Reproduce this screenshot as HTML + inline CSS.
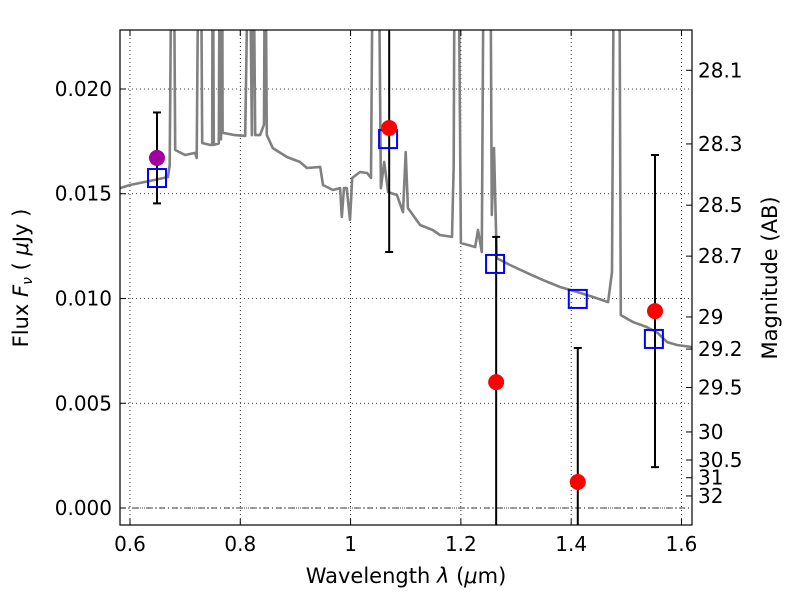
<!DOCTYPE html>
<html><head><meta charset="utf-8"><style>
html,body{margin:0;padding:0;background:#fff;}
svg text{font-family:"DejaVu Sans","Liberation Sans",sans-serif;}
</style></head><body>
<svg id="chart" width="800" height="600" viewBox="0 0 800 600" xmlns="http://www.w3.org/2000/svg">
<defs><clipPath id="clip"><rect x="120" y="30" width="572" height="495"/></clipPath></defs>
<rect x="0" y="0" width="800" height="600" fill="#fff"/>
<g id="grid"></g>
<g id="plot" clip-path="url(#clip)"></g>
<rect x="120" y="30" width="572" height="495" fill="none" stroke="#000" stroke-width="1.2"/>
<g id="axes"></g>
<text x="406" y="583" font-size="21" text-anchor="middle">Wavelength  <tspan font-style="italic">λ</tspan> (<tspan font-style="italic">μ</tspan>m)</text>
<text transform="translate(28,278) rotate(-90)" font-size="21" text-anchor="middle">Flux  <tspan font-style="italic">F</tspan><tspan font-style="italic" font-size="14" dy="4">ν</tspan><tspan dy="-4">  ( </tspan><tspan font-style="italic">μ</tspan>Jy )</text>
<text transform="translate(777,278) rotate(-90)" font-size="21" text-anchor="middle">Magnitude (AB)</text>
</svg>
<script>
const specWave=[0.582,0.600,0.645,0.669,0.672,0.676,0.679,0.682,0.700,0.718,0.721,0.725,0.728,0.731,0.745,0.749,0.750,0.752,0.761,0.763,0.765,0.767,0.768,0.770,0.790,0.809,0.816,0.821,0.823,0.827,0.836,0.843,0.845,0.848,0.859,0.885,0.908,0.921,0.945,0.950,0.968,0.981,0.984,0.988,0.993,0.999,1.003,1.017,1.030,1.037,1.041,1.050,1.055,1.061,1.068,1.084,1.095,1.100,1.104,1.126,1.149,1.162,1.184,1.187,1.189,1.195,1.200,1.226,1.231,1.238,1.242,1.253,1.256,1.260,1.265,1.289,1.320,1.349,1.380,1.411,1.440,1.467,1.474,1.478,1.487,1.490,1.512,1.537,1.557,1.574,1.592,1.619];
const specFlux=[0.01527,0.01542,0.01566,0.01580,0.01637,0.030,0.030,0.01709,0.01685,0.01695,0.01671,0.030,0.030,0.01742,0.01733,0.01733,0.030,0.01733,0.01740,0.030,0.01760,0.030,0.01790,0.01790,0.01780,0.01776,0.030,0.01780,0.030,0.01780,0.01780,0.01830,0.030,0.01780,0.01718,0.01675,0.01652,0.01623,0.01628,0.01542,0.01518,0.01527,0.01389,0.01527,0.01527,0.01375,0.01575,0.01604,0.01599,0.01575,0.030,0.030,0.01527,0.01652,0.01508,0.01494,0.01413,0.01699,0.01432,0.01351,0.01327,0.01303,0.01294,0.01637,0.030,0.030,0.01265,0.01246,0.01327,0.01222,0.030,0.030,0.01399,0.01718,0.01193,0.01160,0.01122,0.01088,0.01055,0.01031,0.01007,0.00983,0.01127,0.030,0.030,0.00921,0.00888,0.00864,0.00835,0.00792,0.00778,0.00768];
const obsWave=[0.649,1.070,1.264,1.412,1.552];
const obsFlux=[0.01671,0.01814,0.00601,0.00124,0.00940];
const obsErr=[0.00217,0.00592,0.00693,0.00640,0.00745];
const obsColor=['#a000a0','#ff0000','#ff0000','#ff0000','#ff0000'];
const modelWave=[0.649,1.068,1.262,1.412,1.550];
const modelFlux=[0.01575,0.01761,0.01165,0.00998,0.00807];
const xTicks=[0.6,0.8,1.0,1.2,1.4,1.6];
const xTickLabels=['0.6','0.8','1','1.2','1.4','1.6'];
const yTicks=[0,0.005,0.010,0.015,0.020];
const yTickLabels=['0.000','0.005','0.010','0.015','0.020'];
const magTicks=[28.1,28.3,28.5,28.7,29,29.2,29.5,30,30.5,31,32];
const magTickLabels=['28.1','28.3','28.5','28.7','29','29.2','29.5','30','30.5','31','32'];

const NS='http://www.w3.org/2000/svg';
const X0=120,X1=692,Y0=30,Y1=525,XMIN=0.5819,XMAX=1.6191,YMIN=-0.000811,YMAX=0.022816;
const sx=v=>X0+(v-XMIN)/(XMAX-XMIN)*(X1-X0);
const sy=v=>Y1-(v-YMIN)/(YMAX-YMIN)*(Y1-Y0);
const magToFlux=m=>Math.pow(10,(23.9-m)/2.5);
function mk(tag,attrs,parent){const e=document.createElementNS(NS,tag);for(const k in attrs)e.setAttribute(k,attrs[k]);parent.appendChild(e);return e;}
const grid=document.getElementById('grid'),plot=document.getElementById('plot'),axes=document.getElementById('axes');

xTicks.forEach((t,i)=>{
  const x=sx(t);
  const g=mk('line',{x1:x,x2:x,y1:Y0,y2:Y1,stroke:'#000','stroke-width':0.8,'stroke-dasharray':'1,3'},grid);
  
  
  mk('line',{x1:x,x2:x,y1:Y1,y2:Y1-6,stroke:'#000'},axes);
  mk('line',{x1:x,x2:x,y1:Y0,y2:Y0+6,stroke:'#000'},axes);
  const tx=mk('text',{x:x,y:Y1+26,'font-size':20,'text-anchor':'middle'},axes);
  tx.textContent=xTickLabels[i];
  
  
});
yTicks.forEach((t,i)=>{
  const y=sy(t);
  const g=mk('line',{x1:X0,x2:X1,y1:y,y2:y,stroke:'#000','stroke-width':0.8,'stroke-dasharray':'1,3'},grid);
  
  
  mk('line',{x1:X0,x2:X0+6,y1:y,y2:y,stroke:'#000'},axes);
  const tx=mk('text',{x:X0-8,y:y+7,'font-size':20,'text-anchor':'end'},axes);
  tx.textContent=yTickLabels[i];
  
  
});
const zl=mk('line',{x1:X0,x2:X1,y1:sy(0),y2:sy(0),stroke:'#000','stroke-width':0.8,'stroke-dasharray':'6,3,1,3'},grid);


magTicks.forEach((m,i)=>{
  const y=sy(magToFlux(m));
  mk('line',{x1:X1,x2:X1-6,y1:y,y2:y,stroke:'#000'},axes);
  const tx=mk('text',{x:X1+6,y:y+7,'font-size':20},axes);
  tx.textContent=magTickLabels[i];
  
  
});

const pts=specWave.map((w,i)=>sx(w).toFixed(1)+','+sy(specFlux[i]).toFixed(1)).join(' ');
const sp=mk('polyline',{points:pts,fill:'none',stroke:'#808080','stroke-width':2.6,'stroke-linejoin':'round'},plot);



obsWave.forEach((w,i)=>{
  const x=sx(w);
  const top=sy(obsFlux[i]+obsErr[i]),bot=sy(obsFlux[i]-obsErr[i]);
  const eb=mk('line',{x1:x,x2:x,y1:top,y2:bot,stroke:'#000','stroke-width':2},plot);
  
  
  mk('line',{x1:x-4,x2:x+4,y1:top,y2:top,stroke:'#000','stroke-width':2},plot);
  mk('line',{x1:x-4,x2:x+4,y1:bot,y2:bot,stroke:'#000','stroke-width':2},plot);
});
modelWave.forEach((w,i)=>{
  const r=mk('rect',{x:sx(w)-9,y:sy(modelFlux[i])-9,width:18,height:18,fill:'none',stroke:'#0000ff','stroke-width':2},plot);
  
  
});
obsWave.forEach((w,i)=>{
  const c=mk('circle',{cx:sx(w),cy:sy(obsFlux[i]),r:8,fill:obsColor[i]},plot);
  
  
});
</script>
</body></html>
